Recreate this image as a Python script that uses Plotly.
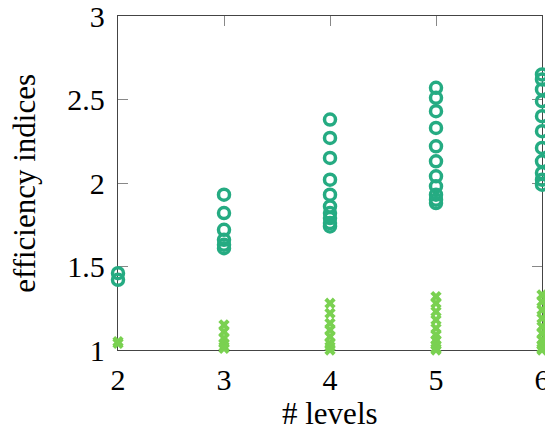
import plotly.graph_objects as go

levels = [2, 3, 4, 5, 6]

circle_values = {
    2: [1.46, 1.42],
    3: [1.93, 1.82, 1.72, 1.66, 1.63, 1.61],
    4: [2.38, 2.27, 2.15, 2.02, 1.93, 1.86, 1.82, 1.79, 1.76, 1.74],
    5: [2.57, 2.51, 2.43, 2.33, 2.22, 2.13, 2.04, 1.98, 1.93, 1.90, 1.88],
    6: [2.65, 2.62, 2.56, 2.49, 2.40, 2.31, 2.21, 2.13, 2.06, 2.02, 1.99],
}

cross_values = {
    2: [1.05, 1.04],
    3: [1.15, 1.11, 1.07, 1.04, 1.02, 1.01],
    4: [1.28, 1.22, 1.16, 1.12, 1.08, 1.04, 1.02, 1.00],
    5: [1.32, 1.28, 1.23, 1.18, 1.13, 1.09, 1.06, 1.03, 1.01, 1.00],
    6: [1.33, 1.29, 1.24, 1.19, 1.14, 1.10, 1.06, 1.03, 1.01, 1.00],
}

y_ticks = [1, 1.5, 2, 2.5, 3]
y_tick_labels = ["1", "1.5", "2", "2.5", "3"]
x_title = "# levels"
y_title = "efficiency indices"

FONT = "Liberation Serif"

def flatten(d):
    xs, ys = [], []
    for lv in levels:
        for v in d[lv]:
            xs.append(lv)
            ys.append(v)
    return xs, ys

cx, cy = flatten(circle_values)
xx, xy = flatten(cross_values)

fig = go.Figure()
fig.add_trace(go.Scatter(
    x=xx, y=xy, mode="markers", cliponaxis=False,
    marker=dict(symbol="x", size=10, color="#7AD151", line=dict(width=0)),
    showlegend=False,
))
fig.add_trace(go.Scatter(
    x=cx, y=cy, mode="markers", cliponaxis=False,
    marker=dict(symbol="circle-open", size=11, color="#25AB82",
                line=dict(width=3.5, color="#25AB82")),
    showlegend=False,
))

axis_common = dict(
    showline=True, linecolor="#444444", linewidth=1.3, mirror="ticks",
    ticks="inside", ticklen=10, tickwidth=1, tickcolor="#888888",
    showgrid=False, zeroline=False, ticklabeloverflow="allow",
    automargin=False, layer="below traces",
    tickfont=dict(family=FONT, size=30, color="black"),
)

fig.update_xaxes(range=[2, 6], tickvals=levels, ticktext=[str(v) for v in levels],
                 ticklabelstandoff=3, **axis_common)
fig.update_yaxes(range=[1, 3], tickvals=y_ticks, ticktext=y_tick_labels,
                 ticklabelstandoff=6, **axis_common)

fig.add_annotation(text=x_title, xref="paper", yref="paper", x=0.5, y=-0.19,
                   xanchor="center", yanchor="middle", showarrow=False,
                   font=dict(family=FONT, size=31, color="black"))
fig.add_annotation(text=y_title, xref="paper", yref="paper", x=-0.222, y=0.5,
                   xanchor="center", yanchor="middle", showarrow=False, textangle=-90,
                   font=dict(family=FONT, size=31, color="black"))

fig.update_layout(
    width=545, height=430,
    margin=dict(l=118, r=3, t=16, b=80, autoexpand=False),
    plot_bgcolor="white", paper_bgcolor="white",
)

fig.write_html("out.html")
